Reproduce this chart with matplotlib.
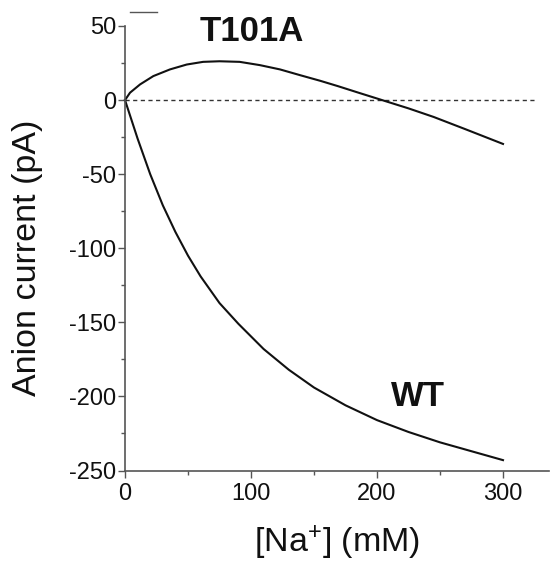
import matplotlib
matplotlib.use("Agg")
import matplotlib.pyplot as plt
from matplotlib.lines import Line2D
from matplotlib.ticker import MultipleLocator

plt.rcParams['font.family'] = ['Liberation Sans', 'DejaVu Sans']
plt.rcParams['axes.unicode_minus'] = False
plt.rcParams['mathtext.fontset'] = 'custom'
plt.rcParams['mathtext.rm'] = 'Liberation Sans'
plt.rcParams['mathtext.it'] = 'Liberation Sans:italic'
plt.rcParams['mathtext.bf'] = 'Liberation Sans:bold'

# Data
na_wt = [0, 10, 20, 30, 40, 50, 60, 75, 90, 110, 130, 150, 175, 200, 225, 250, 275, 300]
cur_wt = [0, -26, -50, -71, -89, -105, -119, -137, -151, -168, -182, -194, -206, -216, -224, -231, -237, -243]

na_t101a = [0, 4, 12, 22.5, 35.7, 49, 62, 75, 91, 107, 123, 139, 155, 169, 186, 204, 225, 245, 270, 300]
cur_t101a = [0, 5, 10.6, 16.2, 20.7, 24, 25.8, 26.2, 25.8, 23.6, 20.7, 16.8, 13.0, 9.4, 4.8, 0, -5.6, -11.4, -19.6, -29.6]

x_ticks = [0, 100, 200, 300]
y_ticks = [-250, -200, -150, -100, -50, 0, 50]
zero_line_x = [0, 325]

fig = plt.figure(figsize=(5.59, 5.67), dpi=100)
ax = fig.add_axes([125/559, 96.5/567, 424/559, 444.5/567])

ax.plot(zero_line_x, [0, 0], color='#333333', lw=1.0, ls=(0, (3, 2.5)))
ax.plot(na_t101a, cur_t101a, color='#111111', lw=1.5, clip_on=False)
ax.plot(na_wt, cur_wt, color='#111111', lw=1.5, clip_on=False)

ax.set_xlim(0, 336.5)
ax.set_ylim(-250, 50)
ax.set_xticks(x_ticks)
ax.set_yticks(y_ticks)
ax.xaxis.set_minor_locator(MultipleLocator(50))
ax.yaxis.set_minor_locator(MultipleLocator(25))

for s in ['top', 'right']:
    ax.spines[s].set_visible(False)
for s in ['left', 'bottom']:
    ax.spines[s].set_color('#555555')
    ax.spines[s].set_linewidth(1.2)

ax.tick_params(which='major', direction='out', length=5, width=1.0, color='#555555',
               labelsize=17, labelcolor='#111111')
ax.tick_params(which='minor', direction='out', length=3, width=1.0, color='#555555')
ax.tick_params(axis='y', which='major', pad=1.5)
ax.tick_params(axis='x', which='major', pad=4)

ax.set_ylabel('Anion current (pA)', fontsize=24.5, color='#111111')
ax.yaxis.set_label_coords(-0.229, 0.479)
ax.yaxis.label.set_verticalalignment('center')

ax.set_xlabel(r'[Na$^{\mathrm{+}}$] (mM)', fontsize=24.5, color='#111111')
ax.xaxis.set_label_coords(0.5, -0.163)
ax.xaxis.label.set_verticalalignment('center')

ax.text(100.4, 46.6, 'T101A', fontsize=25, fontweight='bold', ha='center', va='center',
        color='#111111', clip_on=False)
ax.text(232.5, -200, 'WT', fontsize=25, fontweight='bold', ha='center', va='center',
        color='#111111')

fig.add_artist(Line2D([130/559, 156.7/559], [1 - 11.7/567, 1 - 11.7/567],
                      color='#555555', lw=1.0, transform=fig.transFigure))

fig.savefig('out.png', dpi=100)
